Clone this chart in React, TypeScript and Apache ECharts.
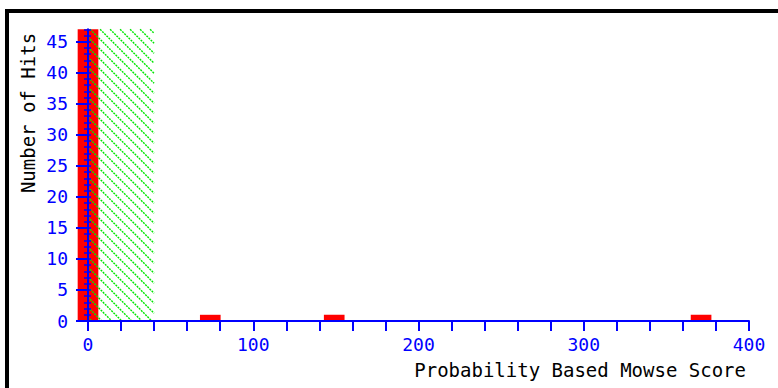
import React, { useEffect, useRef } from "react";
import * as echarts from "echarts";

// Histogram of Mowse scores
const binCenters = [0, 74, 149, 371];
const binWidth = 12.5;
const hits = [47, 1, 1, 1];
const threshold = 40;
const yMax = 47;
const yLabelMax = 45;
const xTicks = [0, 100, 200, 300, 400];

const FONT = "'DejaVu Sans Mono', monospace";
const BLUE = "#0000ff";

export default function App() {
  const ref = useRef<HTMLDivElement>(null);
  useEffect(() => {
    if (!ref.current) return;
    const chart = echarts.init(ref.current, null, { renderer: "svg" });
    const gridL = 88, gridR = 29, gridB = 67, gridT = 29.3;
    const plotH = 388 - gridB - gridT;
    const topMajor = gridT + plotH * (yMax - yLabelMax) / yMax;
    const binData = binCenters.map((c, i) => [c - binWidth / 2, c + binWidth / 2, hits[i]]);

    chart.setOption({
      animation: false,
      backgroundColor: "#ffffff",
      grid: [
        { left: gridL, right: gridR, top: gridT, bottom: gridB },
        { left: gridL, right: gridR, top: topMajor, bottom: gridB },
      ],
      xAxis: [
        {
          type: "value", gridIndex: 0, min: xTicks[0], max: xTicks[xTicks.length - 1], interval: 20, z: 10,
          axisLine: { lineStyle: { color: BLUE, width: 2 } },
          axisTick: { length: 10, lineStyle: { color: BLUE, width: 2 } },
          axisLabel: {
            margin: 14, color: BLUE, fontFamily: FONT, fontSize: 18,
            formatter: (v: number) => (xTicks.includes(v) ? String(v) : ""),
          },
          splitLine: { show: false },
        },
        { type: "value", gridIndex: 1, min: 0, max: 400, show: false },
      ],
      yAxis: [
        {
          type: "value", gridIndex: 0, min: 0, max: yMax, interval: 1, z: 10, position: "left",
          axisLine: { show: true, lineStyle: { color: BLUE, width: 2 } },
          axisTick: { show: true, length: 4, lineStyle: { color: BLUE, width: 1.5 } },
          axisLabel: { show: false },
          splitLine: { show: false },
        },
        {
          type: "value", gridIndex: 0, min: 0, max: yMax, interval: 1, z: 10, position: "left",
          axisLine: { show: false },
          axisTick: { show: true, inside: true, length: 3, lineStyle: { color: BLUE, width: 1.5 } },
          axisLabel: { show: false },
          splitLine: { show: false },
        },
        {
          type: "value", gridIndex: 1, min: 0, max: yLabelMax, interval: 5, z: 10, position: "left",
          axisLine: { show: false },
          axisTick: { show: true, length: 12, lineStyle: { color: BLUE, width: 2 } },
          axisLabel: { margin: 20, color: BLUE, fontFamily: FONT, fontSize: 18 },
          splitLine: { show: false },
        },
      ],
      series: [
        {
          type: "custom",
          xAxisIndex: 0, yAxisIndex: 0,
          encode: { x: [0, 1], y: 2 },
          data: binData,
          z: 2,
          renderItem: (params: any, api: any) => {
            const p0 = api.coord([api.value(0), 0]);
            const p1 = api.coord([api.value(1), api.value(2)]);
            return {
              type: "rect",
              shape: { x: p0[0], y: p1[1], width: p1[0] - p0[0], height: p0[1] - p1[1] },
              style: { fill: "#ff0000" },
            };
          },
        },
        {
          type: "custom",
          xAxisIndex: 0, yAxisIndex: 0,
          encode: { x: [0, 1], y: 2 },
          data: [[0, threshold, yMax]],
          z: 3,
          renderItem: (params: any, api: any) => {
            const p0 = api.coord([api.value(0), 0]);
            const p1 = api.coord([api.value(1), api.value(2)]);
            const x0 = p0[0], x1 = p1[0], y0 = p1[1], y1 = p0[1];
            const children: any[] = [];
            const step = 10;
            for (let c = x1 - y0 - 4; c > x0 - y1; c -= step) {
              const ya = Math.max(y0, x0 - c);
              const yb = Math.min(y1, x1 - c);
              if (yb <= ya) continue;
              children.push({
                type: "line",
                shape: { x1: ya + c, y1: ya, x2: yb + c, y2: yb },
                style: { stroke: "#00e600", lineWidth: 1.4, lineDash: [2, 1] },
              });
            }
            return { type: "group", children };
          },
        },
      ],
      graphic: [
        {
          type: "rect", z: 20,
          shape: { x: 7, y: 11, width: 820, height: 420 },
          style: { fill: "none", stroke: "#000000", lineWidth: 4 },
        },
        {
          type: "text", z: 20, x: 28, y: 113, rotation: Math.PI / 2,
          style: {
            text: "Number of Hits", fill: "#000000", font: `19px ${FONT}`,
            textAlign: "center", textVerticalAlign: "middle",
          },
        },
        {
          type: "text", z: 20, x: 746, y: 370,
          style: {
            text: "Probability Based Mowse Score", fill: "#000000", font: `19px ${FONT}`,
            textAlign: "right", textVerticalAlign: "middle",
          },
        },
      ],
    });
    return () => chart.dispose();
  }, []);
  return (
    <div
      ref={ref}
      style={{ position: "absolute", left: 0, top: 0, width: 778, height: 388 }}
    />
  );
}
